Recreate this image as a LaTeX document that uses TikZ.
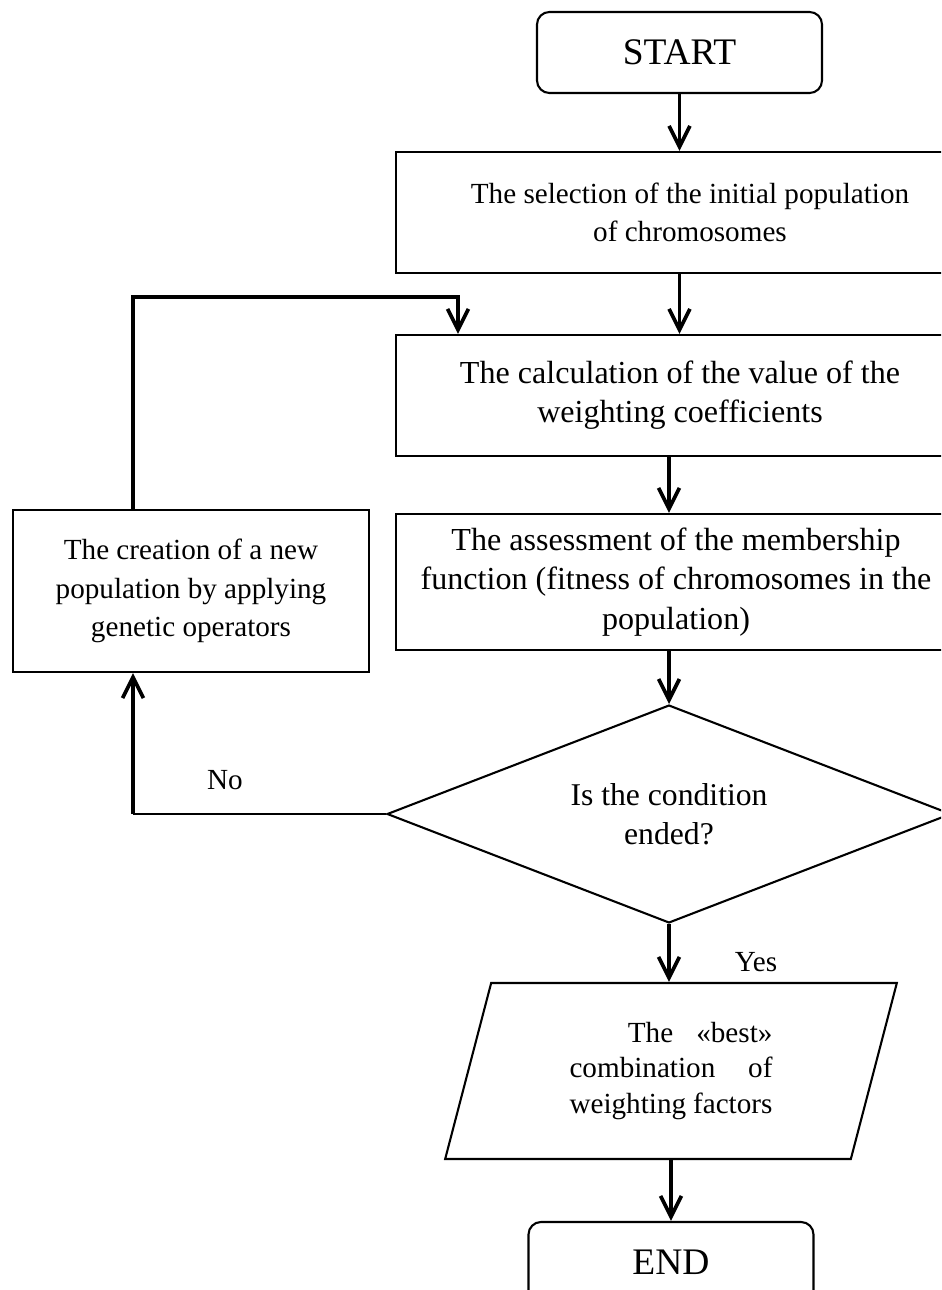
\documentclass[tikz,border=0pt]{standalone}
\usepackage{fontspec}
\setmainfont{Liberation Serif}
\usetikzlibrary{arrows.meta, shapes.geometric}

\tikzset{
  block/.style={draw, line width=1pt, minimum width=282.2pt, align=center,
    inner sep=2pt, font=\fontsize{14}{18.5}\selectfont},
  bigtext/.style={font=\fontsize{15.4}{18.8}\selectfont},
  terminal/.style={draw, line width=1pt, rounded corners=6pt, minimum width=136.8pt,
    minimum height=38.9pt, font=\fontsize{18}{20}\selectfont},
  decision/.style={draw, diamond, shape aspect=2.59, line width=1pt, inner sep=0pt,
    minimum width=270.7pt, minimum height=104.6pt, align=center,
    font=\fontsize{15.2}{18.5}\selectfont},
  output/.style={draw, trapezium, trapezium left angle=76, trapezium right angle=104,
    trapezium stretches=true, line width=1pt, minimum width=217pt, minimum height=84.5pt,
    font=\fontsize{14}{17}\selectfont},
  label/.style={font=\fontsize{14}{17}\selectfont},
  flow/.style={line width=1.8pt, -{Straight Barb[length=10pt, width=10pt]}},
}

\begin{document}
\begin{tikzpicture}[x=0.48pt, y=-0.48pt, line join=miter]
  \clip (0,0) rectangle (941,1290);

  % main column
  \node (start) [terminal] at (679.5,52.5) {START};
  \node (select) [block, minimum height=58.1pt] at (690,212.5)
    {The selection of the initial population\\ of chromosomes};
  \node (calc) [block, bigtext, minimum width=272.6pt, minimum height=58.1pt] at (680,395.5)
    {The calculation of the value of the\\ weighting coefficients};
  \node (assess) [block, bigtext, minimum width=268.8pt, minimum height=65.3pt] at (676,582)
    {The assessment of the membership\\ function (fitness of chromosomes in the\\ population)};
  \node (decide) [decision] at (669,814) {Is the condition\\ ended?};
  \node (result) [output] at (671,1071)
    {\parbox{97.4pt}{\raggedright\hspace*{28pt}The\hfill«best»\\ combination\hfill of\\ weighting factors}};
  \node (finish) [terminal] at (671,1262.5) {END};

  % loop box
  \node (newpop) [block, minimum width=170.9pt, minimum height=77.8pt] at (191,591)
    {The creation of a new\\ population by applying\\ genetic operators};

  \node (no) [label] at (225,780) {No};
  \node (yes) [label] at (756,962) {Yes};

  \coordinate (nocorner) at (133,814);
  \coordinate (loopend) at (458,297);

  \draw[flow] (start.south) -- (start.south |- select.north);
  \draw[flow] (select.south -| start.south) -- (start.south |- calc.north);
  \draw[flow] (calc.south -| decide.north) -- (decide.north |- assess.north);
  \draw[flow] (assess.south -| decide.north) -- (decide.north);
  \draw[flow] (decide.south) -- (decide.south |- result.north);
  \draw[flow] (result.south) -- (finish.north);

  \draw[line width=1pt] (decide.west) -- (nocorner);
  \draw[flow] (nocorner) -- (nocorner |- newpop.south);
  \draw[flow] (nocorner |- newpop.north) |- (loopend) -- (loopend |- calc.north);
\end{tikzpicture}
\end{document}
